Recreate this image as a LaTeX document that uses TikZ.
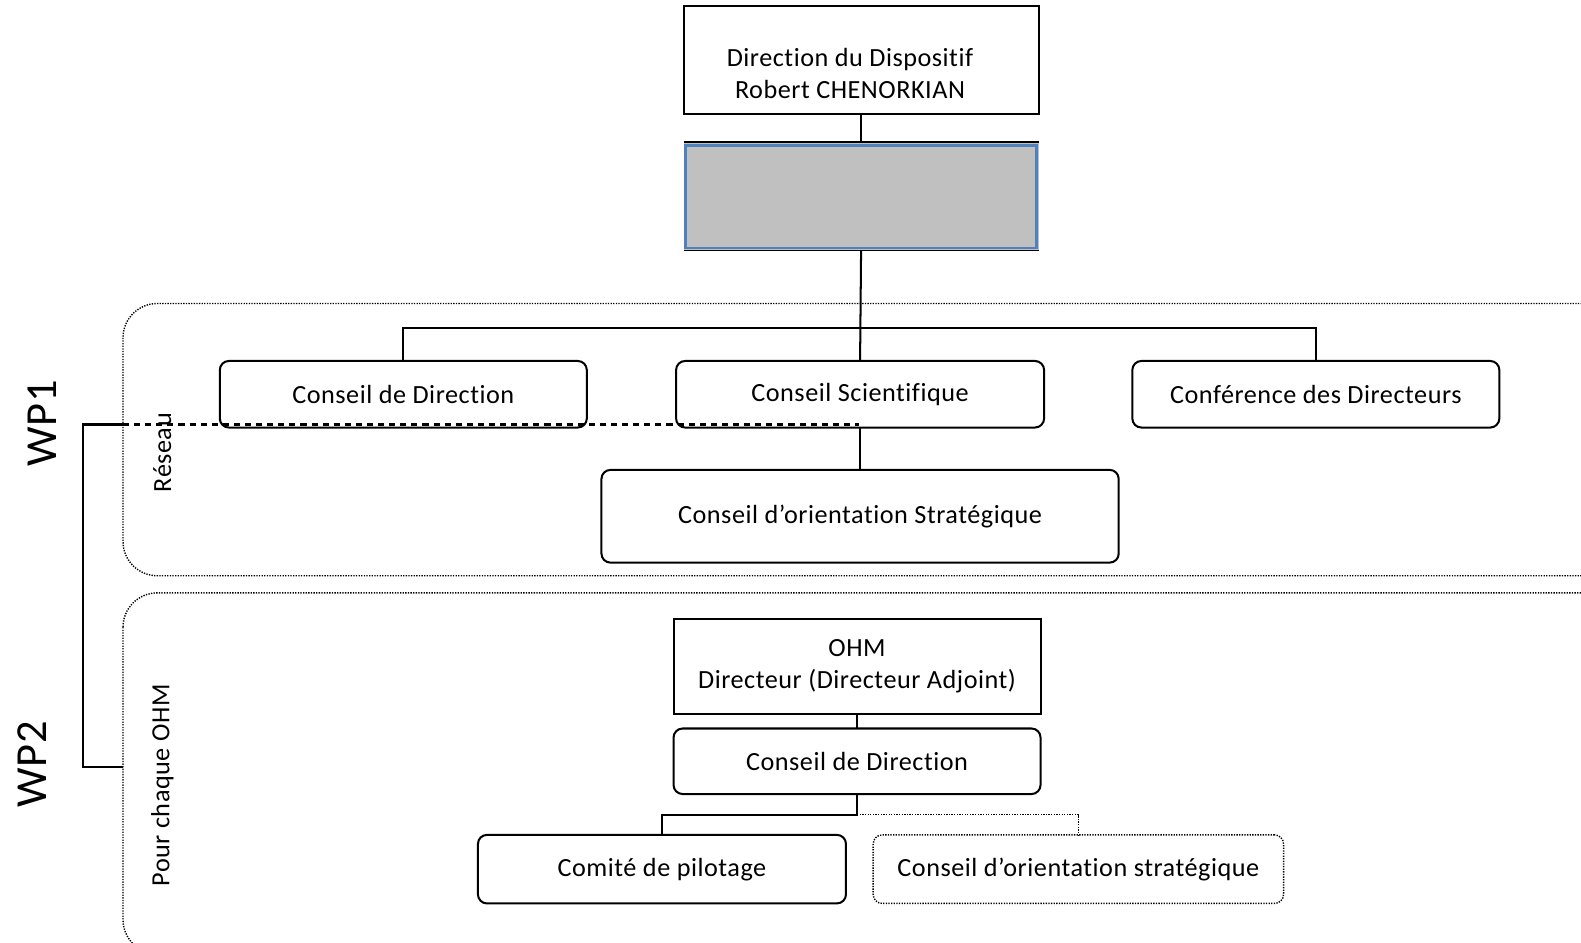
\documentclass[tikz,border=0pt]{standalone}
\usepackage{fontspec}
\setmainfont{Carlito}[LetterSpace=2,Ligatures=NoCommon,RawFeature=-liga]
\definecolor{greyfill}{RGB}{192,192,192}
\definecolor{blueedge}{RGB}{79,129,189}
\tikzset{
  sq/.style={draw, line width=2pt, outer sep=0pt, inner sep=2pt, align=center, font=\fontsize{26}{32}\selectfont},
  rbox/.style={sq, rounded corners=9pt},
  dotbox/.style={rbox, line width=1.4pt, dash pattern=on 1.3pt off 1.3pt},
  region/.style={line width=1.4pt, dash pattern=on 1.3pt off 1.3pt, rounded corners=34pt},
  conn/.style={line width=2pt},
  dotconn/.style={line width=1.4pt, dash pattern=on 1.3pt off 1.3pt},
  dashconn/.style={line width=2pt, dash pattern=on 6pt off 5pt},
  sidelabel/.style={rotate=90, font=\fontsize{26}{30}\selectfont, inner sep=0pt},
  wplabel/.style={rotate=90, font=\fontsize{44}{50}\selectfont, inner sep=0pt}
}
\begin{document}
\begin{tikzpicture}[x=1pt,y=-1pt]
\useasboundingbox (0,0) rectangle (1568,935);
\clip (0,0) rectangle (1568,935);
% regions
\draw[region] (122,301) rectangle (1640,571);
\draw[region] (122,588) rectangle (1640,946);
% top boxes
\node[sq, minimum width=352pt, minimum height=107pt, text depth=0pt] (top) at (854,59.5) {\raisebox{-6pt}{\begin{tabular}{@{}c@{}}Direction du Dispositif\\Robert CHENORKIAN\end{tabular}}\hspace*{22pt}};
\node[fill=greyfill, outer sep=0pt, inner sep=0pt, minimum width=352pt, minimum height=107pt] (grey) at (854,194.5) {};
\draw[blueedge, line width=2.6pt] (680,144) rectangle (1028,246);
\draw[conn] (grey.north west) -- (grey.north east);
\draw[line width=1pt] (grey.south west) -- (grey.south east);
% WP1 row
\node[rbox, minimum width=364pt, minimum height=66pt] (cdir) at (400,391) {Conseil de Direction};
\node[rbox, minimum width=365pt, minimum height=66pt] (cs) at (853,391) {Conseil Scientifique};
\node[rbox, minimum width=364pt, minimum height=66pt] (conf) at (1305,391) {Conférence des Directeurs};
\node[rbox, minimum width=513pt, minimum height=92pt] (cos) at (853,512) {Conseil d’orientation Stratégique};
% WP2
\node[sq, minimum width=364pt, minimum height=94pt] (ohm) at (850,661) {OHM\\Directeur (Directeur Adjoint)};
\node[rbox, minimum width=364pt, minimum height=65pt] (cdir2) at (850,755) {Conseil de Direction};
\node[rbox, minimum width=365pt, minimum height=68pt] (copil) at (656.5,862) {Comité de pilotage};
\node[dotbox, minimum width=407pt, minimum height=68pt] (cos2) at (1069.5,862) {Conseil d’orientation stratégique};
% labels
\node[wplabel] (wp1) at (42,420) {WP1};
\node[wplabel] (wp2) at (32,758) {WP2};
\node[sidelabel] (reseau) at (161,449) {Réseau};
\node[sidelabel] (pour) at (161,779) {Pour chaque OHM};
% connector coordinates
\coordinate (j1) at (853,325);
\coordinate (j2) at (850,808);
\coordinate (b1) at (82,421);
\coordinate (b1e) at (122,421);
\coordinate (d1) at (852,421);
\coordinate (b2) at (122,761);
% connectors
\draw[conn] (top.south) -- (grey.north);
\draw[conn] (grey.south) -- (cs.north);
\draw[conn] (cdir.north) |- (j1) -| (conf.north);
\draw[conn] (cs.south) -- (cos.north -| cs.south);
\draw[conn] (ohm.south) -- (cdir2.north);
\draw[conn] (cdir2.south) -- (j2) -| (copil.north);
\draw[dotconn] (j2) -| (cos2.north);
\draw[conn] (b1e) -- (b1) |- (b2);
\draw[dashconn] (b1e) -- (d1);
\end{tikzpicture}
\end{document}
